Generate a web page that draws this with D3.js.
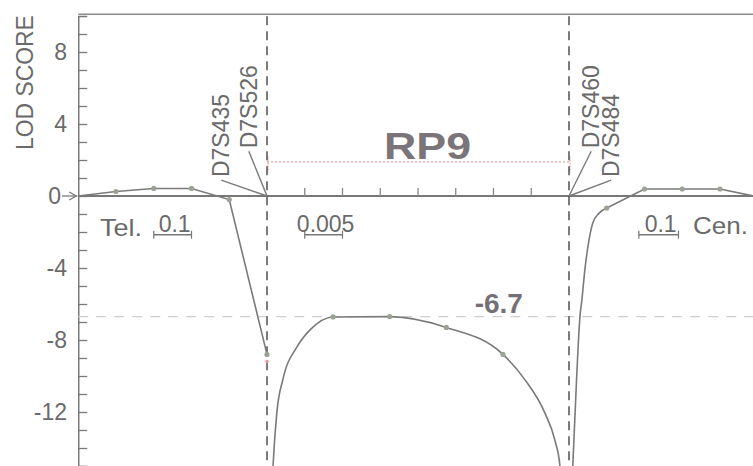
<!doctype html>
<html lang="en">
  <head>
    <meta charset="UTF-8" />
    <title>RP9 LOD score</title>
    <script src="https://unpkg.com/d3@7.9.0/dist/d3.min.js"></script>
    <style>
      body {
        margin: 0;
        background: #fff;
        overflow: hidden;
      }
      svg text {
        font-family: 'Liberation Sans', Arial, sans-serif;
        fill: #6a6a6a;
      }
      .curve {
        fill: none;
        stroke: #7a7a7a;
        stroke-width: 1.6px;
      }
      .dot {
        fill: #9aa394;
      }
    </style>
  </head>
  <body>
    <svg width="753" height="466"></svg>

    <script>
      // y axis labels
      const yTicks = [8, 4, 0, -4, -8, -12];

      // marker positions (tick units along the map) and names
      const markerPos = [0, 8];
      const markerNames = [
        ['D7S435', 'D7S526'],
        ['D7S460', 'D7S484'],
      ];
      // label anchor positions (map units, LOD units)
      const labelPos = [-1.0, -0.27, 8.8, 9.33];
      const labelLod = [1.05, 2.65, 2.65, 1.05];

      // telomeric side (straight segments)
      const leftPos = [-5, -4, -3, -2, -1, 0];
      const leftLod = [0, 0.25, 0.42, 0.42, -0.2, -8.8];

      // inside the RP9 interval (smooth curve)
      const midPos = [0.1, 0.16, 0.26, 0.42, 0.79, 1.14, 1.75, 3.25, 4.75, 6.25, 6.83, 7.36, 7.63, 7.76, 7.84];
      const midLod = [-18, -15, -12.05, -10.2, -8.4, -7.44, -6.72, -6.7, -7.3, -8.8, -10.2, -12.05, -13.6, -15, -18];
      const midDots = [1.75, 3.25, 4.75, 6.25];

      // centromeric side
      const rightCurvePos = [8.05, 8.1, 8.2, 8.29, 8.34, 8.42, 8.5, 8.63, 8.8, 9];
      const rightCurveLod = [-18, -15, -10.2, -6.7, -5.8, -4.1, -2.83, -1.5, -0.95, -0.67];
      const rightPos = [9, 10, 11, 12, 13];
      const rightLod = [-0.67, 0.39, 0.39, 0.39, -0.05];

      const maxLod = -6.7;
      const rp9Lod = 1.9;

      const svg = d3.select('svg'),
        width = +svg.attr('width'),
        height = +svg.attr('height');

      const x = d3.scaleLinear().domain([-5, 13]).range([78.25, 757.75]);
      const y = d3.scaleLinear().domain([-15, 10]).range([466, 16]);

      const plotTop = y(10.1);

      svg.append('defs')
        .append('clipPath')
        .attr('id', 'plot')
        .append('rect')
        .attr('x', x(-5))
        .attr('y', plotTop)
        .attr('width', width - x(-5))
        .attr('height', height - plotTop);

      // frame: top border and left axis
      svg.append('line')
        .attr('x1', x(-5)).attr('x2', width)
        .attr('y1', plotTop).attr('y2', plotTop)
        .attr('stroke', '#8a8a8a').attr('stroke-width', 1.5);

      const yAxis = svg.append('g')
        .attr('transform', `translate(${x(-5)},0)`)
        .call(d3.axisRight(y).tickValues(d3.range(-15, 10)).tickSize(9).tickFormat(''));
      yAxis.select('.domain').attr('stroke', '#7a7a7a').attr('stroke-width', 1.5);
      yAxis.selectAll('.tick line').attr('stroke', '#7a7a7a').attr('stroke-width', 1.3);

      svg.selectAll('.ylab')
        .data(yTicks)
        .enter()
        .append('text')
        .attr('class', 'ylab')
        .attr('x', (d) => (d === 0 ? 61 : 67))
        .attr('y', (d) => y(d) + 8)
        .attr('text-anchor', 'end')
        .style('font-size', '23px')
        .text((d) => d);

      // arrow on the zero label
      svg.append('line')
        .attr('x1', 62).attr('x2', x(-5) - 1)
        .attr('y1', y(0)).attr('y2', y(0))
        .attr('stroke', '#7a7a7a').attr('stroke-width', 1.3);
      svg.append('path')
        .attr('d', `M${x(-5) - 9},${y(0) - 4}L${x(-5) - 2},${y(0)}L${x(-5) - 9},${y(0) + 4}`)
        .attr('fill', 'none').attr('stroke', '#7a7a7a').attr('stroke-width', 1.3);

      svg.append('text')
        .attr('transform', `translate(33,${y(2.55)}) rotate(-90)`)
        .attr('textLength', 135)
        .attr('lengthAdjust', 'spacingAndGlyphs')
        .style('font-size', '23px')
        .text('LOD SCORE');

      // -6.7 reference line
      svg.append('line')
        .attr('x1', x(-5)).attr('x2', width)
        .attr('y1', y(maxLod)).attr('y2', y(maxLod))
        .attr('stroke', '#cfcfcf').attr('stroke-width', 1.2)
        .attr('stroke-dasharray', '10,8');

      // zero line
      svg.append('line')
        .attr('x1', x(-5)).attr('x2', width)
        .attr('y1', y(0)).attr('y2', y(0))
        .attr('stroke', '#777').attr('stroke-width', 2);

      // small ticks inside the interval
      svg.selectAll('.itick')
        .data(d3.range(1, 8))
        .enter()
        .append('line')
        .attr('x1', (d) => x(d)).attr('x2', (d) => x(d))
        .attr('y1', y(0)).attr('y2', y(0) - 8)
        .attr('stroke', '#888').attr('stroke-width', 1.3);

      // RP9 interval
      svg.append('line')
        .attr('x1', x(0)).attr('x2', x(8))
        .attr('y1', y(rp9Lod)).attr('y2', y(rp9Lod))
        .attr('stroke', '#e7a3a8').attr('stroke-width', 1.2)
        .attr('stroke-dasharray', '2,2');
      svg.selectAll('.rtick')
        .data(markerPos)
        .enter()
        .append('line')
        .attr('x1', (d) => x(d) + 1).attr('x2', (d) => x(d) + 1)
        .attr('y1', y(rp9Lod + 0.3)).attr('y2', y(rp9Lod - 0.6))
        .attr('stroke', '#e7a3a8').attr('stroke-width', 1.2)
        .attr('stroke-dasharray', '2,1');

      svg.append('text')
        .attr('x', x(3.1))
        .attr('y', y(rp9Lod) - 3)
        .attr('textLength', 87)
        .attr('lengthAdjust', 'spacingAndGlyphs')
        .style('font-size', '36px')
        .style('font-weight', 'bold')
        .style('fill', '#7b7479')
        .text('RP9');

      svg.append('text')
        .attr('x', x(5.5))
        .attr('y', y(maxLod) - 4)
        .style('font-size', '28px')
        .style('font-weight', 'bold')
        .style('fill', '#756f78')
        .text('-6.7');

      // marker dashed lines
      svg.selectAll('.mline')
        .data(markerPos)
        .enter()
        .append('line')
        .attr('x1', (d) => x(d)).attr('x2', (d) => x(d))
        .attr('y1', plotTop + 2).attr('y2', height)
        .attr('stroke', '#444').attr('stroke-width', 1.4)
        .attr('stroke-dasharray', '9,6');

      // curves
      const lineL = d3.line().x((d) => x(d[0])).y((d) => y(d[1]));
      const lineS = d3.line().x((d) => x(d[0])).y((d) => y(d[1])).curve(d3.curveMonotoneX);

      const curves = svg.append('g').attr('clip-path', 'url(#plot)');
      curves.append('path').attr('class', 'curve').attr('d', lineL(d3.zip(leftPos, leftLod)));
      curves.append('path').attr('class', 'curve').attr('d', lineS(d3.zip(midPos, midLod)));
      curves.append('path').attr('class', 'curve').attr('d', lineS(d3.zip(rightCurvePos, rightCurveLod)));
      curves.append('path').attr('class', 'curve').attr('d', lineL(d3.zip(rightPos, rightLod)));

      const dots = []
        .concat(d3.zip(leftPos, leftLod).slice(1))
        .concat(midDots.map((p) => [p, midLod[midPos.indexOf(p)]]))
        .concat(d3.zip(rightPos, rightLod).slice(0, 4));
      curves.selectAll('.dot')
        .data(dots)
        .enter()
        .append('circle')
        .attr('class', 'dot')
        .attr('cx', (d) => x(d[0]))
        .attr('cy', (d) => y(d[1]))
        .attr('r', 2.6);

      // red mark under the last telomeric point
      svg.append('circle')
        .attr('cx', x(0)).attr('cy', y(-9.2)).attr('r', 1.8)
        .attr('fill', '#e59aa0');

      // marker labels and leaders
      const names = markerNames.flat();
      const leaderTo = [0, 0, 8, 8];
      names.forEach((name, i) => {
        const lx = x(labelPos[i]);
        const ly = y(labelLod[i]);
        svg.append('text')
          .attr('transform', `translate(${lx},${ly}) rotate(-90)`)
          .style('font-size', '23px')
          .text(name);
        svg.append('line')
          .attr('x1', lx - 8).attr('y1', ly + 3)
          .attr('x2', x(leaderTo[i])).attr('y2', y(0))
          .attr('stroke', '#7a7a7a').attr('stroke-width', 1.4);
      });

      // scale bars
      const bars = [
        { from: -3, to: -2, label: '0.1' },
        { from: 1, to: 2, label: '0.005' },
        { from: 9.85, to: 10.9, label: '0.1' },
      ];
      const barLod = -2.15;
      bars.forEach((b) => {
        const g = svg.append('g');
        g.append('line')
          .attr('x1', x(b.from)).attr('x2', x(b.to))
          .attr('y1', y(barLod)).attr('y2', y(barLod))
          .attr('stroke', '#777').attr('stroke-width', 1.4);
        [b.from, b.to].forEach((p) => {
          g.append('line')
            .attr('x1', x(p)).attr('x2', x(p))
            .attr('y1', y(barLod) - 4).attr('y2', y(barLod) + 4)
            .attr('stroke', '#777').attr('stroke-width', 1.2);
        });
        g.append('text')
          .attr('x', (x(b.from) + x(b.to)) / 2 + 2)
          .attr('y', y(barLod) - 3)
          .attr('text-anchor', 'middle')
          .style('font-size', '23px')
          .text(b.label);
      });

      svg.append('text')
        .attr('x', 100).attr('y', y(barLod) + 1)
        .attr('textLength', 42)
        .attr('lengthAdjust', 'spacingAndGlyphs')
        .style('font-size', '24px')
        .text('Tel.');
      svg.append('text')
        .attr('x', 693).attr('y', y(barLod) - 1)
        .attr('textLength', 55)
        .attr('lengthAdjust', 'spacingAndGlyphs')
        .style('font-size', '24px')
        .text('Cen.');
    </script>
  </body>
</html>
